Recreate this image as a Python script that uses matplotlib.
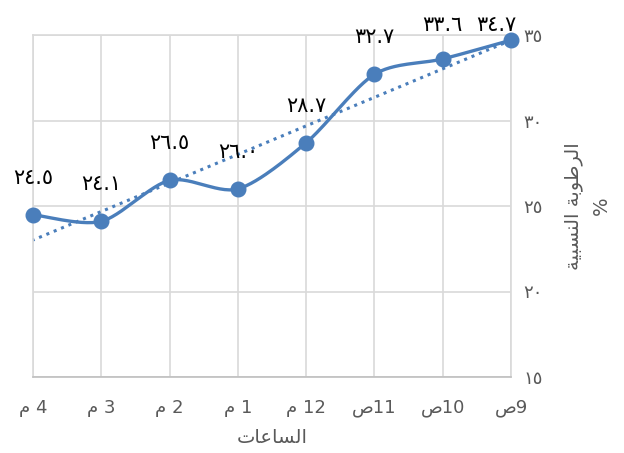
import numpy as np
import matplotlib
matplotlib.use("Agg")
import matplotlib.pyplot as plt

# Data (time order: 9 am -> 4 pm)
hours = ["ص9", "ص10", "ص11", "م 12", "م 1", "م 2", "م 3", "م 4"]
humidity = [34.7, 33.6, 32.7, 28.7, 26.0, 26.5, 24.1, 24.5]
y_ticks = [15, 20, 25, 30, 35]

# Arabic text, already shaped and in visual order (matplotlib has no bidi)
x_title = "\ufe95\ufe8e\ufecb\ufe8e\ufeb4\ufedf\ufe8d"
y_title = ("\ufe94\ufef4\ufe92\ufeb4\ufee8\ufedf\ufe8d "
           "\ufe94\ufe91\ufeee\ufec3\ufeae\ufedf\ufe8d\n%")

AR_DIGITS = "٠١٢٣٤٥٦٧٨٩"


def to_arabic(s):
    return "".join(AR_DIGITS[int(c)] if c.isdigit() else c for c in s)


def smooth(xs, ys, n=30):
    # Excel-like smoothed line (Catmull-Rom as cubic Bezier)
    pts = np.column_stack([xs, ys]).astype(float)
    p = np.vstack([pts[0], pts, pts[-1]])
    out = []
    t = np.linspace(0, 1, n)[:, None]
    for i in range(1, len(p) - 2):
        p0, p1, p2, p3 = p[i - 1], p[i], p[i + 1], p[i + 2]
        c1 = p1 + (p2 - p0) / 7
        c2 = p2 - (p3 - p1) / 7
        seg = ((1 - t) ** 3) * p1 + 3 * ((1 - t) ** 2) * t * c1 + 3 * (1 - t) * t ** 2 * c2 + t ** 3 * p2
        out.append(seg)
    out = np.vstack(out)
    return out[:, 0], out[:, 1]


blue = "#4a7ebb"
grid_c = "#d9d9d9"
W, H = 624, 453
x = np.arange(len(hours))

fig = plt.figure(figsize=(W / 100, H / 100), dpi=100)
ax = fig.add_axes([33 / W, 1 - 377 / H, (511 - 33) / W, (377 - 35) / H])

sx, sy = smooth(x, humidity)
ax.plot(sx, sy, color=blue, lw=2.4, solid_capstyle="round", zorder=3, clip_on=False)
ax.plot(x, humidity, "o", color=blue, ms=10.5, zorder=4, clip_on=False)

# linear trendline
k, b = np.polyfit(x, humidity, 1)
ax.plot(x, k * x + b, color=blue, lw=2.2, ls=(0, (1, 1.6)), zorder=2, clip_on=False)

ax.set_xlim(0, len(hours) - 1)
ax.invert_xaxis()
ax.set_ylim(15, 35)

# data labels above points, kept inside the chart like Excel does
for xi, v in zip(x, humidity):
    px, py = ax.transData.transform((xi, v))
    lx = min(px, 496)
    ly = min(py + 37, H - 25)
    fig.text(lx / W, ly / H, to_arabic(f"{v:.1f}"), ha="center", va="center",
             fontsize=15, family="DejaVu Sans", color="black", zorder=5)

ax.set_xticks(x)
ax.set_xticklabels(hours, fontsize=13, color="#595959", family="DejaVu Sans")
ax.set_yticks(y_ticks)
ax.set_yticklabels([to_arabic(str(v)) for v in y_ticks], fontsize=13, color="#595959", family="DejaVu Sans")
ax.yaxis.tick_right()
ax.yaxis.set_label_position("right")
ax.tick_params(axis="x", length=0, pad=16)
ax.tick_params(axis="y", length=0, pad=9)

ax.grid(True, color=grid_c, lw=1.2)
for s in ax.spines.values():
    s.set_color(grid_c)
    s.set_linewidth(1.2)
ax.spines["bottom"].set_color("#bfbfbf")

ax.set_xlabel(x_title, fontsize=14, color="#595959", family="DejaVu Sans", labelpad=8)
ax.set_ylabel(y_title, fontsize=14, color="#595959", family="DejaVu Sans", labelpad=32,
              rotation=90, va="center", ha="center", linespacing=1.6)

fig.savefig("out.png", dpi=100)
